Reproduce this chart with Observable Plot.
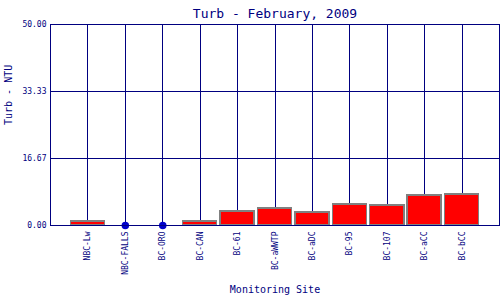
<!DOCTYPE html>
<html>
<head>
<meta charset="utf-8">
<script src="https://cdn.jsdelivr.net/npm/d3@7"></script>
<script src="https://cdn.jsdelivr.net/npm/@observablehq/plot@0.6"></script>
<style>
  html, body { margin: 0; padding: 0; background: white; }
</style>
</head>
<body>
<div id="chart"></div>
<script>
const title = "Turb - February, 2009";
const yLabel = "Turb - NTU";
const xLabel = "Monitoring Site";
const sites = ["NBC-Lw","NBC-FALLS","BC-ORO","BC-CAN","BC-61","BC-aWWTP","BC-aDC","BC-95","BC-107","BC-aCC","BC-bCC"];
const turb = [1.0, 0, 0, 1.0, 3.5, 4.2, 3.2, 5.2, 5.0, 7.5, 7.7];
const yTicks = [0, 16.67, 33.33, 50];

const navy = "#000080";
const data = sites.map((s, i) => ({site: s, pos: i + 1, value: turb[i]}));
const half = 0.455;

const chart = Plot.plot({
  width: 500,
  height: 300,
  marginLeft: 50,
  marginRight: 1,
  marginTop: 24,
  marginBottom: 75,
  x: {domain: [0, sites.length + 1], axis: null},
  y: {domain: [0, 50], axis: null},
  style: {fontFamily: "DejaVu Sans Mono", color: navy, background: "white"},
  marks: [
    Plot.ruleY(yTicks, {stroke: navy, strokeWidth: 1, shapeRendering: "crispEdges"}),
    Plot.ruleX(data, {x: "pos", stroke: navy, strokeWidth: 1, shapeRendering: "crispEdges"}),
    Plot.rectY(data.filter(d => d.value > 0), {
      x1: d => d.pos - half, x2: d => d.pos + half, y1: 0, y2: "value",
      fill: "#ff0000", stroke: "#808080", strokeWidth: 1.5, shapeRendering: "crispEdges"
    }),
    Plot.dot(data.filter(d => d.value === 0), {x: "pos", y: "value", r: 3.75, fill: "#0000cc", stroke: "none"}),
    Plot.frame({stroke: navy, strokeWidth: 1, shapeRendering: "crispEdges"}),
    Plot.axisY({ticks: yTicks, tickSize: 0, tickPadding: 4, tickFormat: d => d.toFixed(2), fontSize: 8, label: null}),
    Plot.axisX({ticks: data.map(d => d.pos), tickFormat: p => sites[p - 1], tickRotate: -90, tickSize: 0, tickPadding: 6, fontSize: 8, label: null}),
    Plot.text([title], {frameAnchor: "top", dy: -16, fontSize: 13, fill: navy}),
    Plot.text([yLabel], {frameAnchor: "left", dx: -42, rotate: -90, fontSize: 10, fill: navy}),
    Plot.text([xLabel], {frameAnchor: "bottom", dy: 67, fontSize: 10, fill: navy})
  ]
});
document.getElementById("chart").appendChild(chart);
</script>
</body>
</html>
